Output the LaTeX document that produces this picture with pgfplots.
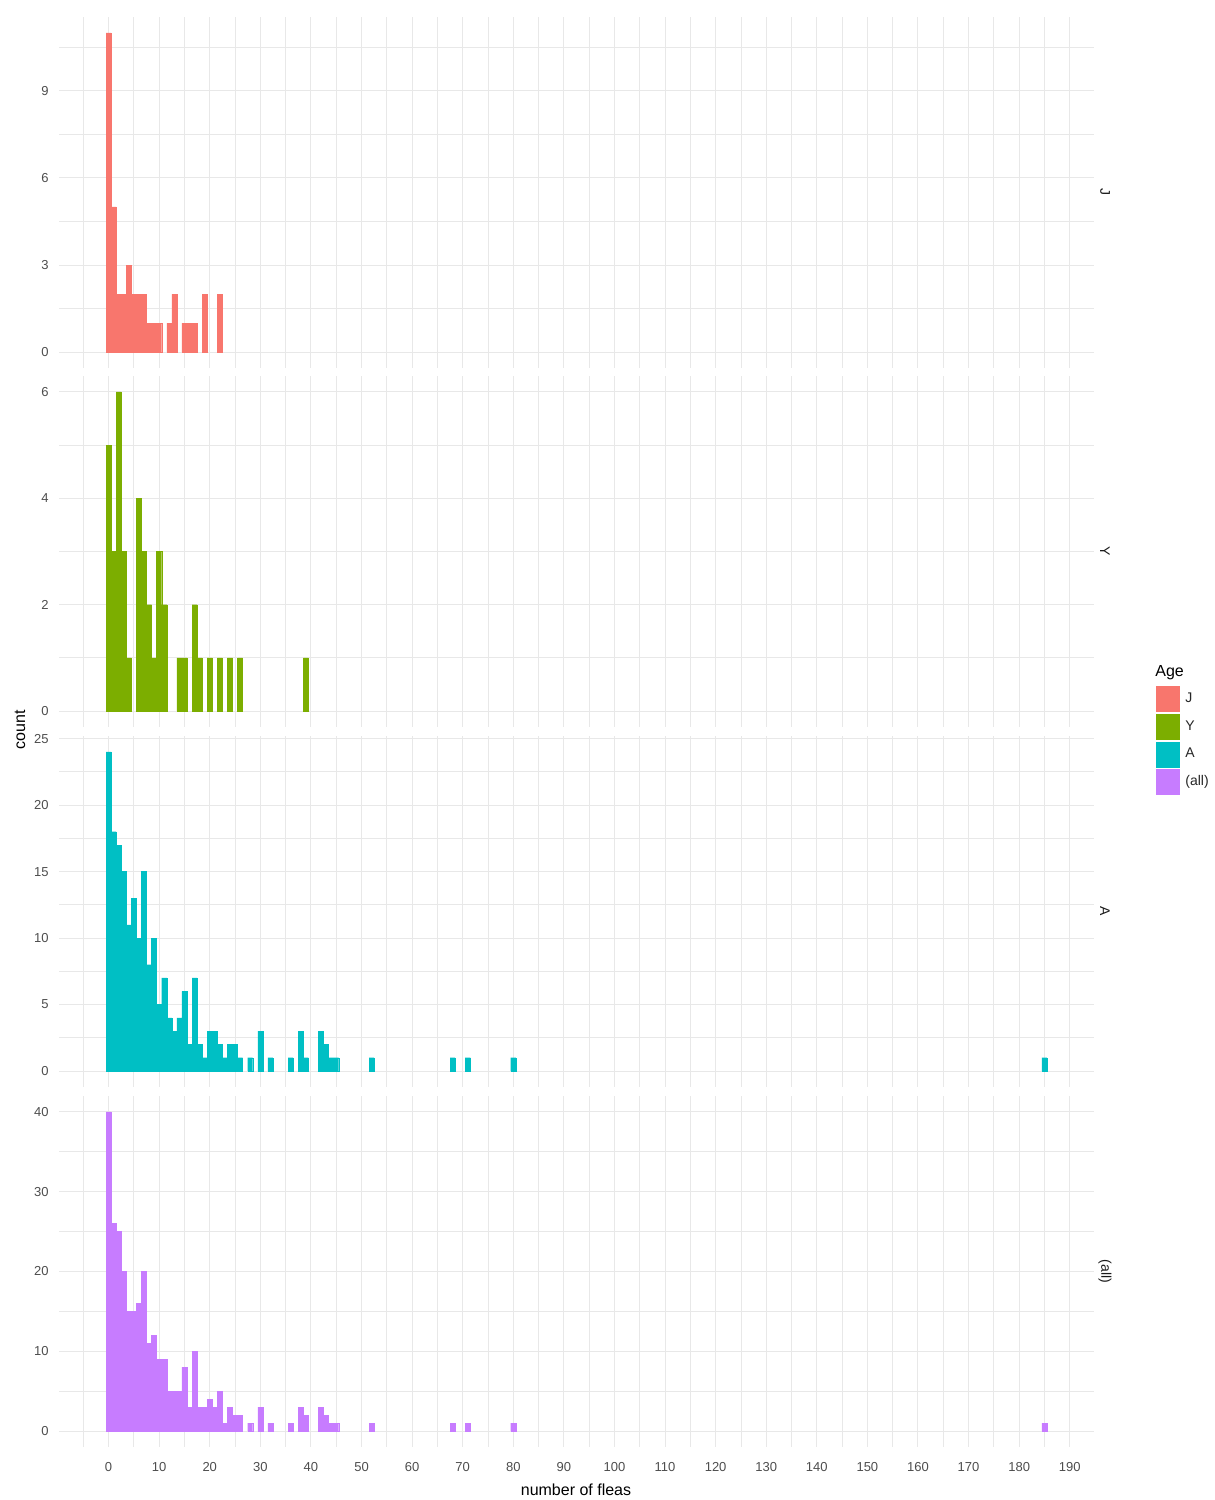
\documentclass[border=0pt]{standalone}
\usepackage{fontspec}
\setmainfont{Liberation Sans}
\usepackage{pgfplots}
\pgfplotsset{compat=1.18}
\definecolor{cJ}{HTML}{F8766D}
\definecolor{cY}{HTML}{7CAE00}
\definecolor{cA}{HTML}{00BFC4}
\definecolor{cAll}{HTML}{C77CFF}
\definecolor{gridc}{HTML}{E8E8E8}
\definecolor{ticktext}{HTML}{4D4D4D}
\definecolor{striptext}{HTML}{1A1A1A}

\pgfplotsset{
  facet/.style={
    scale only axis, width=517.5pt, height=175.5pt,
    anchor=north west,
    xmin=-9.8, xmax=194.8,
    xtick={0,10,20,30,40,50,60,70,80,90,100,110,120,130,140,150,160,170,180,190},
    minor xtick={-5,5,15,25,35,45,55,65,75,85,95,105,115,125,135,145,155,165,175,185,195},
    grid=both,
    major grid style={draw=gridc, line width=0.5pt},
    minor grid style={draw=gridc, line width=0.4pt},
    axis line style={draw=none},
    major tick length=0pt, minor tick length=0pt,
    tick style={draw=none},
    /pgf/number format/assume math mode=true,
    tick label style={font=\fontsize{6.5}{7}\selectfont, text=ticktext},
    yticklabel style={inner sep=0pt, xshift=-5pt},
    xticklabel style={inner sep=0pt, yshift=-7.5pt},
    ybar, bar width=1, bar shift=0pt,
  },
  facetbar/.style={fill=#1, draw=#1, line width=0.15pt},
}

\begin{document}
\begin{tikzpicture}
\path[use as bounding box] (0pt,0pt) rectangle (607.5pt,750pt);

% Panel J
\begin{axis}[facet, at={(29.5pt,741.5pt)},
  ymin=-0.55, ymax=11.55, ytick={0,3,6,9}, minor ytick={1.5,4.5,7.5,10.5},
  xticklabels={}]
\addplot[facetbar=cJ] coordinates {
(0,11) (1,5) (2,2) (3,2) (4,3) (5,2) (6,2) (7,2) (8,1) (9,1) (10,1)
(12,1) (13,2) (15,1) (16,1) (17,1) (19,2) (22,2)};
\end{axis}

% Panel Y
\begin{axis}[facet, at={(29.5pt,562pt)},
  ymin=-0.3, ymax=6.3, ytick={0,2,4,6}, minor ytick={1,3,5},
  xticklabels={}]
\addplot[facetbar=cY] coordinates {
(0,5) (1,3) (2,6) (3,3) (4,1) (6,4) (7,3) (8,2) (9,1) (10,3) (11,2)
(14,1) (15,1) (17,2) (18,1) (20,1) (22,1) (24,1) (26,1) (39,1)};
\end{axis}

% Panel A (with legend)
\begin{axis}[facet, at={(29.5pt,382pt)},
  ymin=-1.2, ymax=25.2, ytick={0,5,...,25}, minor ytick={2.5,7.5,...,22.5},
  xticklabels={},
  legend image code/.code={\fill[#1, draw=none] (0pt,-6.5pt) rectangle (12pt,6.5pt);},
  legend style={at={(1.0599,1.1425)}, anchor=north west, draw=none, fill=none,
    inner sep=0pt, row sep=0.8pt, column sep=2.5pt,
    nodes={inner sep=0pt, font=\fontsize{7}{8}\selectfont, text=black!85}},
  legend cell align=left]
\addplot[facetbar=cA, forget plot] coordinates {
(0,24) (1,18) (2,17) (3,15) (4,11) (5,13) (6,10) (7,15) (8,8) (9,10)
(10,5) (11,7) (12,4) (13,3) (14,4) (15,6) (16,2) (17,7) (18,2) (19,1)
(20,3) (21,3) (22,2) (23,1) (24,2) (25,2) (26,1) (28,1) (30,3) (32,1)
(36,1) (38,3) (39,1) (42,3) (43,2) (44,1) (45,1) (52,1) (68,1) (71,1)
(80,1) (185,1)};
\addlegendimage{fill=cJ, draw=none}\addlegendentry{J}
\addlegendimage{fill=cY, draw=none}\addlegendentry{Y}
\addlegendimage{fill=cA, draw=none}\addlegendentry{A}
\addlegendimage{fill=cAll, draw=none}\addlegendentry{(all)}
\end{axis}

% Panel (all)
\begin{axis}[facet, at={(29.5pt,202pt)},
  ymin=-2, ymax=42, ytick={0,10,...,40}, minor ytick={5,15,25,35}]
\addplot[facetbar=cAll] coordinates {
(0,40) (1,26) (2,25) (3,20) (4,15) (5,15) (6,16) (7,20) (8,11) (9,12)
(10,9) (11,9) (12,5) (13,5) (14,5) (15,8) (16,3) (17,10) (18,3) (19,3)
(20,4) (21,3) (22,5) (23,1) (24,3) (25,2) (26,2) (28,1) (30,3) (32,1)
(36,1) (38,3) (39,2) (42,3) (43,2) (44,1) (45,1) (52,1) (68,1) (71,1)
(80,1) (185,1)};
\end{axis}

% strip labels
\begin{scope}[every node/.style={rotate=-90, font=\fontsize{7}{8}\selectfont, text=striptext, inner sep=0pt}]
\node at (552.5pt,653.75pt) {J};
\node at (552.5pt,474.25pt) {Y};
\node at (552.5pt,294.25pt) {A};
\node at (552.5pt,114.25pt) {(all)};
\end{scope}

% axis titles
\node[rotate=90, font=\fontsize{8}{9}\selectfont, inner sep=0pt] at (10pt,385pt) {count};
\node[anchor=base, font=\fontsize{8}{9}\selectfont, inner sep=0pt] at (288pt,2pt) {number of fleas};

% legend title
\node[anchor=west, font=\fontsize{8}{9}\selectfont, inner sep=0pt] at (577.5pt,413.5pt) {Age};
\end{tikzpicture}
\end{document}
